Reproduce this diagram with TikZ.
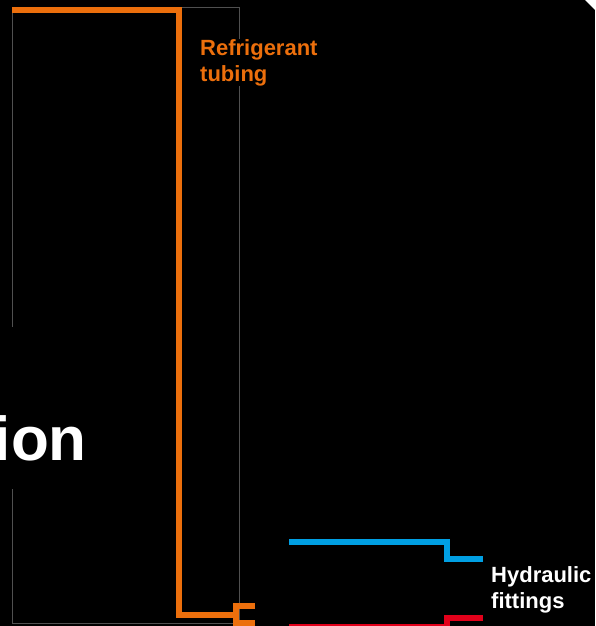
\documentclass[tikz,border=0pt]{standalone}
\usepackage{fontspec}
\setmainfont{Liberation Sans}
\definecolor{pipeorange}{HTML}{EC6F0C}
\definecolor{pipeblue}{HTML}{009FE3}
\definecolor{pipered}{HTML}{E2001A}
\definecolor{framegrey}{HTML}{505050}
\begin{document}
\begin{tikzpicture}[x=1pt,y=-1pt,
  pipe/.style={line width=6pt,line join=miter,line cap=butt},
  frame/.style={draw=framegrey,line width=0.9pt},
  lbl/.style={font=\fontsize{22}{26.5}\selectfont\bfseries,align=left,anchor=north west,inner sep=0pt,fill=black}]
\fill[black] (0,0) rectangle (595,626);
\useasboundingbox (0,0) rectangle (595,626);
\clip (0,0) rectangle (595,626);
% corner
\fill[white] (585,0) -- (595,0) -- (595,10) -- cycle;
% frame
\coordinate (fTL) at (12,7);
\coordinate (fTR) at (239,7);
\coordinate (fBR) at (239,623);
\coordinate (fBL) at (12,623);
\coordinate (gapA) at (12,327);
\coordinate (gapB) at (12,489);
\draw[frame] (gapA) -- (fTL) -- (fTR) -- (fBR) -- (fBL) -- (gapB);
% big clipped text
\node[font=\fontsize{62}{62}\selectfont\bfseries,text=white,anchor=base east,inner sep=0pt] (ion) at (87,460) {ion};
% orange tubing
\coordinate (o1) at (12,10);
\coordinate (o2) at (179,10);
\coordinate (o3) at (179,614.5);
\coordinate (o4) at (236,614.5);
\draw[pipe,pipeorange] (o1) -- (o2) -- (o3) -- (o4);
\coordinate (b1) at (255,606);
\coordinate (b2) at (236,606);
\coordinate (b3) at (236,623);
\coordinate (b4) at (255,623);
\draw[pipe,pipeorange] (b1) -- (b2) -- (b3) -- (b4);
% blue
\coordinate (u1) at (289,542);
\coordinate (u2) at (446.5,542);
\coordinate (u3) at (446.5,558.5);
\coordinate (u4) at (483,558.5);
\draw[pipe,pipeblue] (u1) -- (u2) -- (u3) -- (u4);
% red
\coordinate (r1) at (483,618);
\coordinate (r2) at (446.5,618);
\coordinate (r3) at (446.5,627);
\coordinate (r4) at (289,627);
\draw[pipe,pipered] (r1) -- (r2) -- (r3) -- (r4);
% labels
\node[lbl,text=pipeorange] (refr) at (200,39) {Refrigerant\\tubing};
\node[lbl,text=white] (hyd) at (491,566) {Hydraulic\\fittings};
\end{tikzpicture}
\end{document}
